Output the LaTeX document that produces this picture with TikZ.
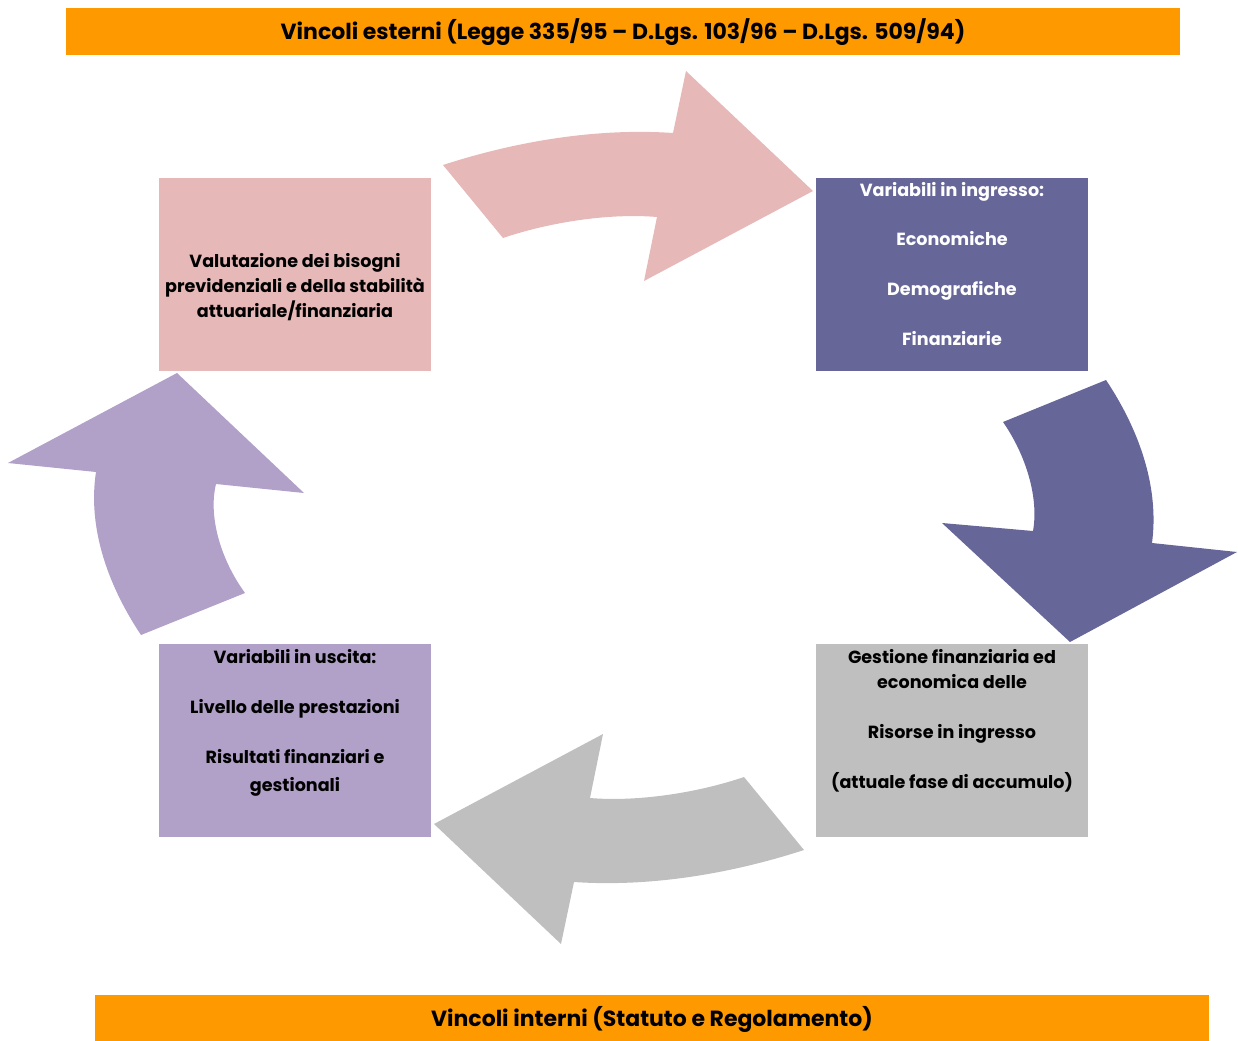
\documentclass[tikz,border=0pt]{standalone}
\usepackage{fontspec}
\setmainfont{Poppins}
\usepackage{tikz}

\definecolor{bandorange}{HTML}{FF9900}
\definecolor{rosebox}{HTML}{E6B8B7}
\definecolor{slatebox}{HTML}{666699}
\definecolor{lilacbox}{HTML}{B1A0C7}
\definecolor{greybox}{HTML}{BFBFBF}

\tikzset{
	bandtext/.style={inner sep=0pt, font=\fontsize{12.5}{14}\selectfont\bfseries},
	boxtext/.style={inner sep=0pt, align=center, font=\fontsize{10}{14.2}\selectfont\bfseries}
}

\begin{document}
\begin{tikzpicture}[x=0.02cm, y=-0.02cm]
	\useasboundingbox (0,0) rectangle (1238,1041);
	
	%draws the two bands of constraints
	\fill[bandorange] (66,8) rectangle (1180,55);
	\node[bandtext] (esterni) at (623,32) {Vincoli esterni (Legge 335/95 – D.Lgs. 103/96 – D.Lgs. 509/94)};
	\fill[bandorange] (95,995) rectangle (1209,1041);
	\node[bandtext] (interni) at (652,1019) {Vincoli interni (Statuto e Regolamento)};
	
	%draws the four boxes
	\fill[rosebox] (159,178) rectangle (431,371);
	\fill[slatebox] (816,178) rectangle (1088,371);
	\fill[lilacbox] (159,644) rectangle (431,837);
	\fill[greybox] (816,644) rectangle (1088,837);
	
	%the texts of the boxes
	\node[boxtext] (bisogni) at (295,287) {Valutazione dei bisogni\\previdenziali e della stabilità\\attuariale/finanziaria};
	\node[boxtext, text=white] (ingresso) at (952,264) {Variabili in ingresso:\\[0.5cm]Economiche\\[0.5cm]Demografiche\\[0.5cm]Finanziarie};
	\node[boxtext] (gestione) at (952,721) {Gestione finanziaria ed\\economica delle\\[0.5cm]Risorse in ingresso\\[0.5cm](attuale fase di accumulo)};
	\node[boxtext] (uscita) at (295,723) {Variabili in uscita:\\[0.5cm]Livello delle prestazioni\\[0.5cm]Risultati finanziari e\\[0.06cm]gestionali};
	
	%top arrow
	\fill[rosebox] (443,165) .. controls (520,140) and (600,128) .. (673,133) -- (686,71) -- (813,191) -- (644,281) -- (657,217) .. controls (610,213) and (550,222) .. (503,238) -- cycle;
	
	%right arrow
	\fill[slatebox] (1106,380) .. controls (1142,434) and (1159,491) .. (1152,543) -- (1237,552) -- (1070,642) -- (942,523) -- (1033,531) .. controls (1039,498) and (1026,455) .. (1003,422) -- cycle;
	
	%bottom arrow
	\fill[greybox] (804,850) .. controls (727,875) and (647,887) .. (574,882) -- (561,944) -- (434,824) -- (603,734) -- (590,798) .. controls (637,802) and (697,793) .. (744,777) -- cycle;
	
	%left arrow
	\fill[lilacbox] (141,635) .. controls (105,581) and (88,524) .. (96,472) -- (8,463) -- (177,373) -- (304,493) -- (216,484) .. controls (208,517) and (221,560) .. (245,593) -- cycle;
	
\end{tikzpicture}
\end{document}
